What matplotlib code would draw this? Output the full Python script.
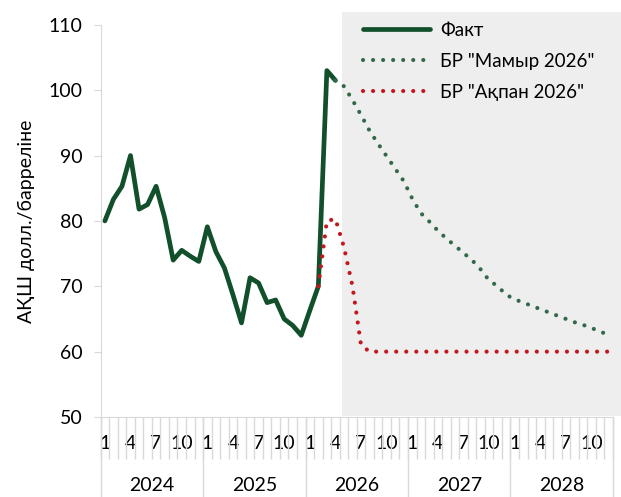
import numpy as np
import matplotlib
matplotlib.use('Agg')
import matplotlib.pyplot as plt
from matplotlib.patches import Rectangle
from matplotlib.transforms import blended_transform_factory

plt.rcParams['font.family'] = ['Lato', 'DejaVu Sans']

# monthly index: 0 = Jan 2024 ... 59 = Dec 2028
years = [2024, 2025, 2026, 2027, 2028]
month_labels = ['1', '4', '7', '10']

fact_start = 0
fact = [80.0, 83.3, 85.3, 90.0, 81.8, 82.5, 85.3, 80.5, 74.0, 75.5, 74.6, 73.8,
        79.1, 75.3, 72.8, 68.7, 64.4, 71.3, 70.5, 67.5, 67.9, 65.0, 64.0, 62.5,
        66.3, 70.0, 103.0, 101.5]

mamyr_start = 27
mamyr = [101.5, 100.6, 98.5, 96.2, 93.8, 91.8, 89.9, 88.0, 86.1, 83.4, 81.2,
         79.9, 78.5, 77.3, 76.2, 75.1, 74.0, 72.6, 70.9, 70.0, 68.7, 68.0, 67.5,
         67.0, 66.5, 66.0, 65.5, 65.0, 64.5, 64.1, 63.6, 63.1, 62.5]

akpan_start = 25
akpan = [70.0, 80.0, 80.3, 76.0, 70.0, 61.0] + [60.0] * 29

forecast_from = 27.75

c_fact = '#11502A'
c_mamyr = '#33694A'
c_akpan = '#C2171D'
c_axis = '#D9D9D9'

fig = plt.figure(figsize=(6.21, 4.97), dpi=100)
ax = fig.add_axes([0.162, 0.161, 0.825, 0.789])
ax.patch.set_visible(False)

# shaded forecast panel (extends above the plot area)
tr = blended_transform_factory(ax.transData, fig.transFigure)
ax.add_patch(Rectangle((forecast_from, 81 / 497), 40, (485 - 81) / 497,
                       transform=tr, facecolor='#EEEEEE', edgecolor='none',
                       clip_on=False, zorder=0))

x_fact = np.arange(fact_start, fact_start + len(fact))
x_mamyr = np.arange(mamyr_start, mamyr_start + len(mamyr))
x_akpan = np.arange(akpan_start, akpan_start + len(akpan))

ax.plot(x_fact, fact, color=c_fact, lw=3.4, solid_capstyle='round',
        solid_joinstyle='round', label='Факт', zorder=3)
ax.plot(x_mamyr, mamyr, color=c_mamyr, lw=3.0, linestyle=(0, (0.01, 2.4)),
        dash_capstyle='round', label='БР "Мамыр 2026"', zorder=4)
ax.plot(x_akpan, akpan, color=c_akpan, lw=3.0, linestyle=(0, (0.01, 2.4)),
        dash_capstyle='round', label='БР "Ақпан 2026"', zorder=5)

ax.set_xlim(-0.5, 59.5)
ax.set_ylim(50, 110)
ax.set_yticks(np.arange(50, 111, 10))
ax.set_ylabel('АҚШ долл./барреліне', fontsize=14, labelpad=10)

for s in ['top', 'right']:
    ax.spines[s].set_visible(False)
ax.spines['left'].set_color(c_axis)
ax.spines['bottom'].set_color(c_axis)

major = [12 * k + m for k in range(len(years)) for m in (0, 3, 6, 9)]
ax.set_xticks(major)
ax.set_xticklabels(month_labels * len(years))
ax.set_xticks(np.arange(-0.5, 60, 1), minor=True)
ax.tick_params(axis='x', which='major', length=0, labelsize=14, pad=13)
ax.tick_params(axis='x', which='minor', length=30, color=c_axis, width=1)
ax.tick_params(axis='y', length=5, color=c_axis, labelsize=14, pad=8)

xt = ax.get_xaxis_transform()
for k, yr in enumerate(years):
    ax.plot([12 * k - 0.5] * 2, [0, -0.21], transform=xt, color=c_axis,
            lw=1, clip_on=False)
    ax.text(12 * k + 5.5, -0.175, str(yr), transform=xt, ha='center',
            va='center', fontsize=14)
ax.plot([59.5] * 2, [0, -0.21], transform=xt, color=c_axis, lw=1, clip_on=False)

ax.legend(loc='upper left', bbox_to_anchor=(355 / 621, 1 - 14 / 497),
          bbox_transform=fig.transFigure, frameon=False, fontsize=13.5,
          handlelength=3.6, handletextpad=0.55, labelspacing=0.75,
          borderaxespad=0)

fig.savefig('out.png', dpi=100, facecolor='white')
